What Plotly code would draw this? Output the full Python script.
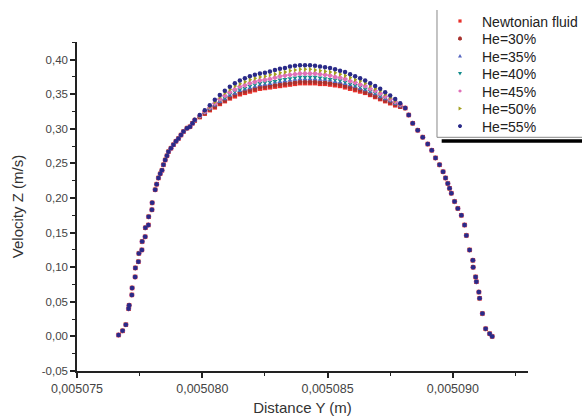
import plotly.graph_objects as go

# ---------------- data ----------------
# shared left flank (all series coincide here)
left_x = [0.00507666, 0.00507682, 0.00507695, 0.00507706, 0.00507708, 0.00507719, 0.00507720,
          0.00507732, 0.00507733, 0.00507745, 0.00507747, 0.00507759, 0.00507760, 0.00507772,
          0.00507773, 0.00507785, 0.00507786, 0.00507799, 0.00507800, 0.00507812, 0.00507818,
          0.00507825, 0.00507832, 0.00507839, 0.00507845, 0.00507852, 0.00507859, 0.00507865,
          0.00507875, 0.00507885, 0.00507895, 0.00507905, 0.00507915, 0.00507925, 0.00507939,
          0.00507951, 0.00507961]
left_y = [0.002, 0.008, 0.017, 0.040, 0.045, 0.060, 0.070, 0.086, 0.099, 0.108, 0.120, 0.125,
          0.137, 0.144, 0.157, 0.161, 0.173, 0.183, 0.193, 0.212, 0.220, 0.229, 0.235, 0.240,
          0.248, 0.255, 0.261, 0.267, 0.272, 0.277, 0.282, 0.286, 0.291, 0.296, 0.301, 0.303,
          0.308]

# top region, where the series separate
top_x = [0.0050797, 0.0050799, 0.0050801, 0.0050803, 0.0050805, 0.0050807, 0.0050809, 0.0050811,
         0.0050813, 0.0050815, 0.0050817, 0.0050819, 0.0050821, 0.0050823, 0.0050825, 0.0050827,
         0.0050829, 0.0050831, 0.0050833, 0.0050835, 0.0050837, 0.0050839, 0.0050841, 0.0050843,
         0.0050845, 0.0050847, 0.0050849, 0.0050851, 0.0050853, 0.0050855, 0.0050857, 0.0050859,
         0.0050861, 0.0050863, 0.0050865, 0.0050867, 0.0050869, 0.0050871, 0.0050873, 0.0050875,
         0.0050877, 0.0050879, 0.0050881]
newtonian_top = [0.312, 0.317, 0.322, 0.327, 0.331, 0.336, 0.340, 0.344, 0.347, 0.350, 0.352, 0.354,
                 0.356, 0.358, 0.359, 0.360, 0.361, 0.362, 0.363, 0.364, 0.365, 0.366, 0.366, 0.366,
                 0.366, 0.365, 0.365, 0.364, 0.363, 0.362, 0.360, 0.358, 0.356, 0.354, 0.352, 0.349,
                 0.346, 0.343, 0.340, 0.337, 0.334, 0.332, 0.330]
he30_top = [0.312, 0.317, 0.322, 0.328, 0.332, 0.337, 0.341, 0.345, 0.349, 0.352, 0.354, 0.356,
            0.358, 0.360, 0.361, 0.362, 0.363, 0.364, 0.365, 0.366, 0.367, 0.368, 0.368, 0.368,
            0.368, 0.367, 0.367, 0.366, 0.365, 0.364, 0.362, 0.360, 0.358, 0.356, 0.353, 0.350,
            0.347, 0.344, 0.341, 0.338, 0.335, 0.332, 0.330]
he35_top = [0.312, 0.318, 0.323, 0.329, 0.334, 0.339, 0.343, 0.348, 0.351, 0.355, 0.357, 0.359,
            0.361, 0.363, 0.364, 0.365, 0.367, 0.368, 0.369, 0.370, 0.371, 0.372, 0.372, 0.372,
            0.372, 0.371, 0.371, 0.370, 0.368, 0.367, 0.365, 0.363, 0.361, 0.358, 0.356, 0.353,
            0.350, 0.346, 0.343, 0.340, 0.336, 0.333, 0.330]
he40_top = [0.312, 0.318, 0.324, 0.329, 0.335, 0.341, 0.345, 0.350, 0.354, 0.357, 0.359, 0.362,
            0.364, 0.366, 0.367, 0.368, 0.369, 0.371, 0.372, 0.373, 0.374, 0.375, 0.375, 0.375,
            0.375, 0.374, 0.373, 0.372, 0.371, 0.370, 0.368, 0.365, 0.363, 0.361, 0.358, 0.355,
            0.352, 0.348, 0.345, 0.341, 0.337, 0.334, 0.330]
he45_top = [0.313, 0.319, 0.325, 0.331, 0.337, 0.343, 0.348, 0.353, 0.357, 0.361, 0.363, 0.366,
            0.368, 0.370, 0.371, 0.372, 0.374, 0.376, 0.377, 0.378, 0.379, 0.380, 0.380, 0.380,
            0.380, 0.379, 0.378, 0.377, 0.375, 0.374, 0.372, 0.369, 0.367, 0.364, 0.362, 0.358,
            0.355, 0.351, 0.347, 0.343, 0.339, 0.335, 0.330]
he50_top = [0.313, 0.319, 0.326, 0.332, 0.339, 0.346, 0.352, 0.357, 0.362, 0.365, 0.368, 0.371,
            0.373, 0.375, 0.376, 0.378, 0.379, 0.381, 0.382, 0.384, 0.385, 0.386, 0.386, 0.386,
            0.385, 0.384, 0.383, 0.382, 0.381, 0.379, 0.377, 0.374, 0.371, 0.369, 0.366, 0.362,
            0.358, 0.355, 0.350, 0.345, 0.341, 0.336, 0.330]
he55_top = [0.313, 0.320, 0.327, 0.334, 0.342, 0.349, 0.355, 0.361, 0.366, 0.370, 0.373, 0.376,
            0.378, 0.380, 0.381, 0.383, 0.385, 0.387, 0.388, 0.390, 0.391, 0.392, 0.392, 0.392,
            0.391, 0.390, 0.389, 0.388, 0.386, 0.384, 0.382, 0.379, 0.376, 0.373, 0.370, 0.366,
            0.362, 0.358, 0.353, 0.348, 0.343, 0.337, 0.330]

# shared right flank
right_x = [0.00508824, 0.00508840, 0.00508860, 0.00508880, 0.00508900, 0.00508916, 0.00508931,
           0.00508947, 0.00508961, 0.00508971, 0.00508980, 0.00508987, 0.00508994, 0.00509007,
           0.00509020, 0.00509034, 0.00509047, 0.00509054, 0.00509067, 0.00509080, 0.00509081,
           0.00509091, 0.00509094, 0.00509104, 0.00509107, 0.00509118, 0.00509131, 0.00509147,
           0.00509157]
right_y = [0.320, 0.308, 0.298, 0.288, 0.278, 0.269, 0.258, 0.248, 0.238, 0.229, 0.221, 0.214,
           0.207, 0.195, 0.185, 0.175, 0.161, 0.146, 0.125, 0.110, 0.100, 0.086, 0.079, 0.064,
           0.055, 0.033, 0.011, 0.004, 0.000]

series_names = ["Newtonian fluid", "He=30%", "He=35%", "He=40%", "He=45%", "He=50%", "He=55%"]
series_tops = [newtonian_top, he30_top, he35_top, he40_top, he45_top, he50_top, he55_top]

x_tick_vals = [0.005075, 0.005080, 0.005085, 0.005090]
x_tick_text = ["0,005075", "0,005080", "0,005085", "0,005090"]
y_tick_vals = [-0.05, 0.00, 0.05, 0.10, 0.15, 0.20, 0.25, 0.30, 0.35, 0.40]
y_tick_text = ["-0,05", "0,00", "0,05", "0,10", "0,15", "0,20", "0,25", "0,30", "0,35", "0,40"]

# ---------------- styles ----------------
colors = ["#e8302a", "#a8322e", "#5565c0", "#138c8c", "#e070b8", "#a3a020", "#2a2a88"]
symbols = ["square", "circle", "triangle-up", "triangle-down", "diamond", "triangle-right", "circle"]
legend_paths = {
    "square": "M-1.6,-1.6 L1.6,-1.6 L1.6,1.6 L-1.6,1.6 Z",
    "circle": "M-1.9,-0.8 L-0.8,-1.9 L0.8,-1.9 L1.9,-0.8 L1.9,0.8 L0.8,1.9 L-0.8,1.9 L-1.9,0.8 Z",
    "triangle-up": "M-2,-1.4 L2,-1.4 L0,2 Z",
    "triangle-down": "M-2,1.4 L2,1.4 L0,-2 Z",
    "diamond": "M-2,0 L0,1.8 L2,0 L0,-1.8 Z",
    "triangle-right": "M-1.4,-2 L-1.4,2 L2,0 Z",
}

fig = go.Figure()
x_all = left_x + top_x + right_x
for name, top, c, s in zip(series_names, series_tops, colors, symbols):
    fig.add_trace(go.Scatter(
        x=x_all, y=left_y + top + right_y, mode="markers", name=name, showlegend=False,
        marker=dict(color=c, symbol=s, size=4.5, line=dict(width=0)),
    ))

# legend drawn by hand (box, shadow, symbols, labels)
legend_top_y = 1.0638
legend_step = 0.0532
shapes = [
    dict(type="line", xref="paper", yref="paper", x0=0.7982, x1=0.7982, y0=0.7103, y1=1.0973,
         line=dict(color="#888", width=1)),
    dict(type="line", xref="paper", yref="paper", x0=0.7982, x1=1.2, y0=0.7103, y1=0.7103,
         line=dict(color="#888", width=1)),
    dict(type="line", xref="paper", yref="paper", x0=0.8086, x1=1.2, y0=0.6991, y1=0.6991,
         line=dict(color="#000", width=3.5)),
]
annotations = []
for i, (name, c, s) in enumerate(zip(series_names, colors, symbols)):
    yy = legend_top_y - i * legend_step
    shapes.append(dict(type="path", xref="paper", yref="paper",
                       xsizemode="pixel", ysizemode="pixel", xanchor=0.8492, yanchor=yy,
                       path=legend_paths[s], fillcolor=c, line=dict(width=0)))
    annotations.append(dict(xref="paper", yref="paper", x=0.8936, y=yy - 0.002,
                            xanchor="left", yanchor="middle", showarrow=False, text=name,
                            font=dict(size=14, color="#222",
                                      family="Arial, Liberation Sans, sans-serif")))

axis_font = dict(family="Arial, Liberation Sans, sans-serif", color="#444")
fig.update_layout(
    width=582, height=418,
    margin=dict(l=77, r=54, t=42, b=47, autoexpand=False),
    paper_bgcolor="white", plot_bgcolor="white",
    font=dict(family="Arial, Liberation Sans, sans-serif", color="#333"),
    showlegend=False,
    xaxis=dict(
        range=[0.005075, 0.005093],
        tickvals=x_tick_vals, ticktext=x_tick_text,
        tickfont=dict(size=12.5, **axis_font),
        showgrid=False, zeroline=False,
        showline=True, linecolor="#222", linewidth=1.5,
        ticks="outside", ticklen=5, tickwidth=1.5, tickcolor="#222",
        minor=dict(dtick=0.000005, tick0=0.0050775, ticks="outside", ticklen=3,
                   tickwidth=1.2, tickcolor="#222", showgrid=False),
        title=dict(text="Distance Y (m)", font=dict(size=15, color="#333"), standoff=8),
    ),
    yaxis=dict(
        range=[-0.05, 0.4255],
        tickvals=y_tick_vals, ticktext=y_tick_text,
        tickfont=dict(size=11.5, **axis_font),
        showgrid=False, zeroline=False,
        showline=True, linecolor="#222", linewidth=1.5,
        ticks="outside", ticklen=5, tickwidth=1.5, tickcolor="#222",
        minor=dict(dtick=0.05, tick0=-0.025, ticks="outside", ticklen=3,
                   tickwidth=1.2, tickcolor="#222", showgrid=False),
        title=dict(text="Velocity Z (m/s)", font=dict(size=15, color="#333"), standoff=14),
    ),
    shapes=shapes,
    annotations=annotations,
)

fig.write_html("out.html", config={"displayModeBar": False},
               post_script="document.body.style.margin='0';")
